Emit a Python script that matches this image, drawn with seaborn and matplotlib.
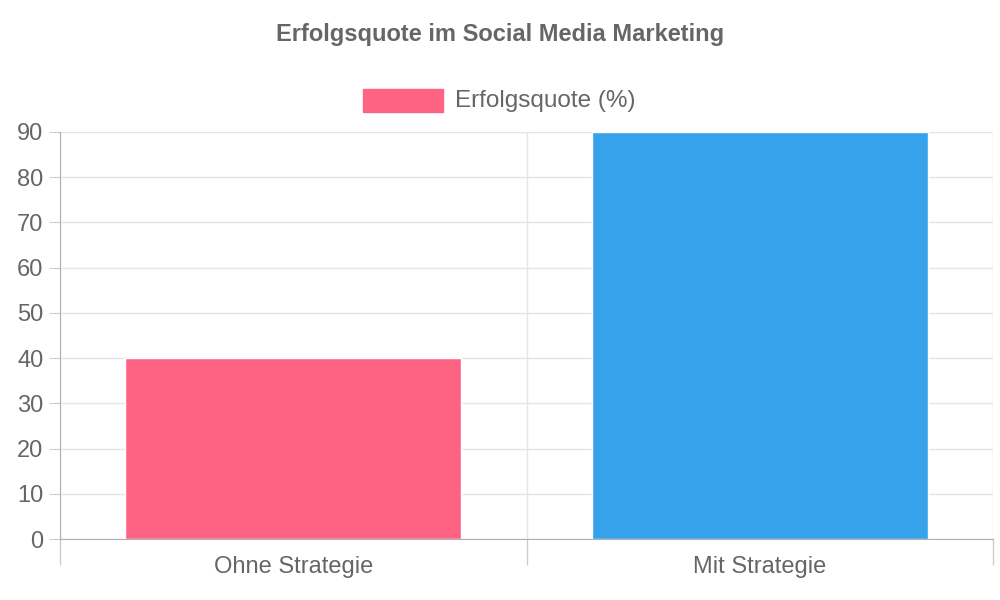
import matplotlib
matplotlib.use('Agg')
import matplotlib.pyplot as plt
import seaborn as sns
import pandas as pd
from matplotlib.patches import Rectangle

categories = ['Ohne Strategie', 'Mit Strategie']
values = [40, 90]
colors = ['#FF6384', '#36A2EB']
series_label = 'Erfolgsquote (%)'
title = 'Erfolgsquote im Social Media Marketing'

sns.set_style('white', {'xtick.bottom': True, 'ytick.left': True})
plt.rcParams['font.family'] = ['Liberation Sans', 'DejaVu Sans']

df = pd.DataFrame({'cat': categories, 'val': values})
fig = plt.figure(figsize=(10, 6), dpi=100)
ax = fig.add_axes([0.06, 1 - 539 / 600, 0.933, (539 - 132) / 600])
sns.barplot(data=df, x='cat', y='val', hue='cat', palette=colors, width=0.72,
            saturation=1, legend=False, ax=ax)

ax.set_xlim(-0.5, 1.5)
ax.set_ylim(0, 90)
ax.set_yticks(range(0, 91, 10))
ax.set_xlabel('')
ax.set_ylabel('')
ax.set_xticks([-0.5, 0.5, 1.5], minor=True)
ax.tick_params(axis='x', which='major', bottom=True, length=0, pad=12, labelsize=17, labelcolor='#666666')
ax.tick_params(axis='x', which='minor', bottom=True, length=19, color='#cccccc', width=1)
ax.tick_params(axis='y', left=True, length=8, color='#cccccc', labelsize=17, labelcolor='#666666', pad=4)
ax.grid(axis='y', color='#e5e5e5', linewidth=1)
ax.grid(axis='x', which='minor', color='#e5e5e5', linewidth=1)
ax.set_axisbelow(True)
for s in ['top', 'right']:
    ax.spines[s].set_visible(False)
for s in ['left', 'bottom']:
    ax.spines[s].set_color('#b0b0b0')

fig.text(0.5, 1 - 34 / 600, title, ha='center', va='center', fontsize=17,
         fontweight='bold', color='#666666')
fig.patches.append(Rectangle((363 / 1000, 1 - 112 / 600), 80 / 1000, 23 / 600,
                             transform=fig.transFigure, color=colors[0]))
fig.text(455 / 1000, 1 - 101 / 600, series_label, ha='left', va='center',
         fontsize=17.5, color='#666666')

fig.savefig('out.png', dpi=100)
